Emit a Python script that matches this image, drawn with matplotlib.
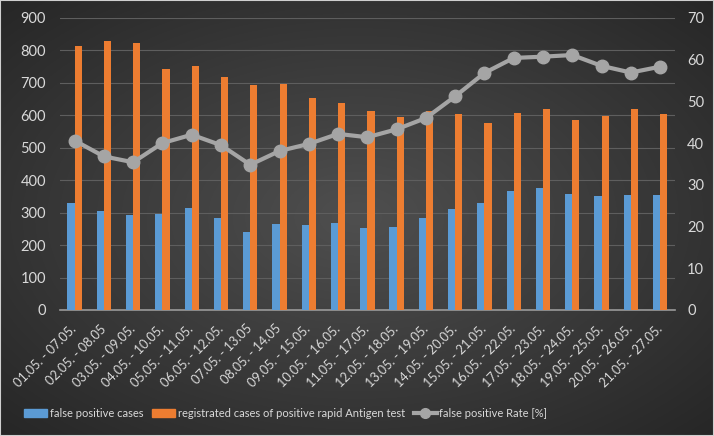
import numpy as np
import matplotlib
matplotlib.use('Agg')
import matplotlib.pyplot as plt
import matplotlib.transforms as mtransforms
from matplotlib.lines import Line2D
from matplotlib.patches import Patch

plt.rcParams['font.family'] = ['Lato', 'DejaVu Sans']

weeks = ['01.05. - 07.05.', '02.05. - 08.05', '03.05. - 09.05.', '04.05. - 10.05.',
         '05.05. - 11.05.', '06.05. - 12.05.', '07.05. - 13.05', '08.05. - 14.05',
         '09.05. - 15.05.', '10.05. - 16.05.', '11.05. - 17.05.', '12.05. - 18.05.',
         '13.05. - 19.05.', '14.05. - 20.05.', '15.05. - 21.05.', '16.05. - 22.05.',
         '17.05. - 23.05.', '18.05. - 24.05.', '19.05. - 25.05.', '20.05. - 26.05.',
         '21.05. - 27.05.']
false_pos = [330, 306, 293, 297, 315, 284, 241, 265, 262, 269, 253,
             257, 284, 310, 329, 368, 377, 358, 351, 353, 353]
registered = [814, 828, 824, 743, 752, 717, 692, 695, 654, 638, 613,
              596, 614, 604, 577, 608, 620, 586, 599, 619, 604]
rate = [40.6, 36.8, 35.4, 40.0, 42.0, 39.5, 34.8, 38.1, 39.8, 42.2, 41.4,
        43.3, 46.0, 51.2, 56.8, 60.4, 60.7, 61.1, 58.5, 56.9, 58.3]

txt = '#d9d9d9'
blue = '#5b9bd5'
orange = '#ed7d31'
grey = '#a5a5a5'

fig = plt.figure(figsize=(7.14, 4.36), dpi=100)

# dark radial background
bg = fig.add_axes([0, 0, 1, 1], zorder=-10)
yy, xx = np.mgrid[-1:1:300j, -1:1:500j]
r = np.sqrt(xx**2 + yy**2) / np.sqrt(2)
shade = 0.31 - 0.16 * r
bg.imshow(np.dstack([shade, shade, shade]), aspect='auto', extent=[0, 1, 0, 1])
bg.set_xlim(0, 1)
bg.set_ylim(0, 1)
bg.axis('off')
fig.patches.append(plt.Rectangle((0, 0), 1, 1, transform=fig.transFigure, fill=False,
                                 edgecolor='#cfcfcf', linewidth=1.5, zorder=5))

ax = fig.add_axes([0.084, 0.289, 0.861, 0.67])
ax.set_facecolor('none')
x = np.arange(len(weeks))
w = 0.245
ax.bar(x - w / 2, false_pos, w, color=blue, zorder=3)
ax.bar(x + w / 2, registered, w, color=orange, zorder=3)
ax.set_ylim(0, 900)
ax.set_yticks(range(0, 901, 100))
ax.set_xlim(-0.5, len(weeks) - 0.5)
ax.set_xticks(x)
ax.set_xticklabels(weeks, rotation=45, ha='right', va='center', rotation_mode='anchor',
                   fontsize=9.2, color=txt)
shift = mtransforms.ScaledTranslation(5 / 100, 0, fig.dpi_scale_trans)
for lbl in ax.get_xticklabels():
    lbl.set_transform(lbl.get_transform() + shift)
ax.tick_params(axis='x', length=0, pad=12)
ax.tick_params(axis='y', length=0, colors=txt, labelsize=10.5, pad=10)
ax.grid(axis='y', color='#5e5e5e', linewidth=0.8, zorder=0)
for s in ['top', 'right', 'left']:
    ax.spines[s].set_visible(False)
ax.spines['bottom'].set_color('#9a9a9a')
ax.spines['bottom'].set_linewidth(1.2)

ax2 = ax.twinx()
ax2.plot(x, rate, color=grey, linewidth=3, marker='o', markersize=9, zorder=4)
ax2.set_ylim(0, 70)
ax2.set_yticks(range(0, 71, 10))
ax2.tick_params(axis='y', length=0, colors=txt, labelsize=10.5, pad=9)
for s in ['top', 'right', 'left', 'bottom']:
    ax2.spines[s].set_visible(False)

handles = [Patch(color=blue), Patch(color=orange),
           Line2D([], [], color=grey, linewidth=3, marker='o', markersize=7)]
labels = ['false positive cases', 'registrated cases of positive rapid Antigen test',
          'false positive Rate [%]']
fig.legend(handles, labels, loc='center', bbox_to_anchor=(0.40, 0.052), ncol=3, frameon=False,
           fontsize=8, labelcolor=txt, handlelength=2.1, handletextpad=0.2, columnspacing=0.8,
           handleheight=0.7)

fig.savefig('out.png', dpi=100)
